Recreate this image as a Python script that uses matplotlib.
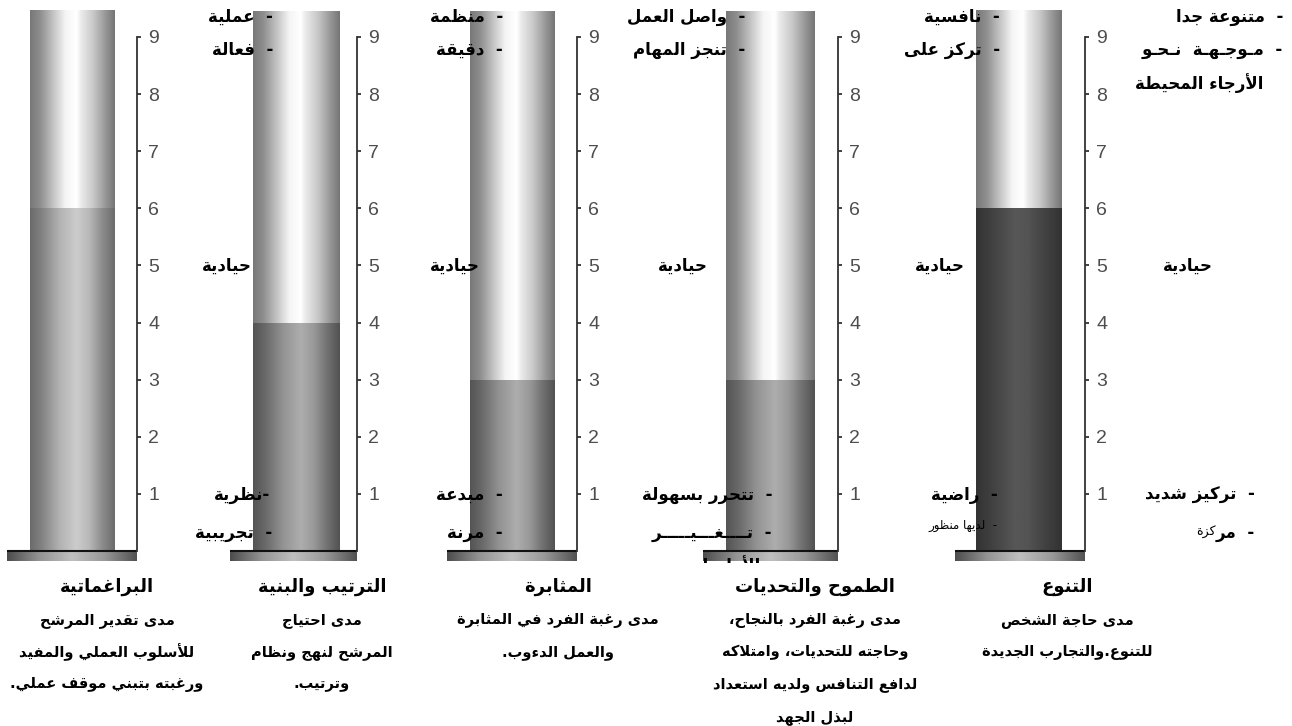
import numpy as np
import matplotlib
matplotlib.use('Agg')
import matplotlib.pyplot as plt
from matplotlib.transforms import Affine2D, Bbox, TransformedBbox, blended_transform_factory

# ---- data ----
scores = [6, 4, 3, 3, 6]
ticks = [1, 2, 3, 4, 5, 6, 7, 8, 9]
titles = ['البراغماتية', 'الترتيب والبنية', 'المثابرة', 'الطموح والتحديات', 'التنوع']
descriptions = [
    ['مدى تقدير المرشح', 'للأسلوب العملي والمفيد', 'ورغبته بتبني موقف عملي.'],
    ['مدى احتياج', 'المرشح لنهج ونظام', 'وترتيب.'],
    ['مدى رغبة الفرد في المثابرة', 'والعمل الدءوب.'],
    ['مدى رغبة الفرد بالنجاح،', 'وحاجته للتحديات، وامتلاكه',
     'لدافع التنافس ولديه استعداد', 'لبذل الجهد'],
    ['مدى حاجة الشخص', 'للتنوع.والتجارب الجديدة'],
]
high_labels = [['عملية', 'فعالة'], ['منظمة', 'دقيقة'], ['واصل العمل', 'تنجز المهام'],
               ['نافسية', 'تركز على'], ['متنوعة جدا', 'مـوجـهـة  نـحـو']]
low_labels = [['نظرية', 'تجريبية'], ['مبدعة', 'مرنة'], ['تتحرر بسهولة', 'تــــغـــيـــــر'],
              ['راضية', 'لديها منظور'], ['تركيز شديد', 'مر']]
neutral = 'حيادية'

# ---- arabic shaping (matplotlib has no bidi / joining) ----
FORMS = {
    'ء': (0xFE80, 1), 'آ': (0xFE81, 2), 'أ': (0xFE83, 2), 'ؤ': (0xFE85, 2), 'إ': (0xFE87, 2),
    'ئ': (0xFE89, 4), 'ا': (0xFE8D, 2), 'ب': (0xFE8F, 4), 'ة': (0xFE93, 2), 'ت': (0xFE95, 4),
    'ث': (0xFE99, 4), 'ج': (0xFE9D, 4), 'ح': (0xFEA1, 4), 'خ': (0xFEA5, 4), 'د': (0xFEA9, 2),
    'ذ': (0xFEAB, 2), 'ر': (0xFEAD, 2), 'ز': (0xFEAF, 2), 'س': (0xFEB1, 4), 'ش': (0xFEB5, 4),
    'ص': (0xFEB9, 4), 'ض': (0xFEBD, 4), 'ط': (0xFEC1, 4), 'ظ': (0xFEC5, 4), 'ع': (0xFEC9, 4),
    'غ': (0xFECD, 4), 'ف': (0xFED1, 4), 'ق': (0xFED5, 4), 'ك': (0xFED9, 4), 'ل': (0xFEDD, 4),
    'م': (0xFEE1, 4), 'ن': (0xFEE5, 4), 'ه': (0xFEE9, 4), 'و': (0xFEED, 2), 'ى': (0xFEEF, 2),
    'ي': (0xFEF1, 4),
}
LAM_ALEF = {'آ': 0xFEF5, 'أ': 0xFEF7, 'إ': 0xFEF9, 'ا': 0xFEFB}
TATWEEL = 'ـ'


def joins(c):
    return c == TATWEEL or (c in FORMS and FORMS[c][1] > 1)


def ar(text):
    out = []
    prev = False
    i = 0
    while i < len(text):
        c = text[i]
        nxt = text[i + 1] if i + 1 < len(text) else ''
        if c == 'ل' and nxt in LAM_ALEF:
            out.append(chr(LAM_ALEF[nxt] + int(prev)))
            prev = False
            i += 2
            continue
        if c in FORMS:
            base, n = FORMS[c]
            if n == 1:
                code = base
            elif n == 2:
                code = base + int(prev)
            else:
                after = joins(nxt)
                code = base + {(False, False): 0, (True, False): 1,
                               (False, True): 2, (True, True): 3}[(prev, after)]
            out.append(chr(code))
            prev = n == 4
        else:
            out.append(c)
            prev = c == TATWEEL
        i += 1
    return ''.join(reversed(out))


# ---- shading ----
def gradient(stops, n=256):
    pos, val = zip(*stops)
    return np.interp(np.linspace(0, 1, n), pos, val)[None, :]


GLASS = gradient([(0, .47), (.12, .56), (.3, .8), (.42, .96), (.55, 1), (.6, .92),
                  (.75, .78), (.9, .58), (1, .46)])
FILL_LIGHT = gradient([(0, .42), (.15, .52), (.35, .7), (.55, .8), (.7, .72), (.85, .55), (1, .42)])
FILL = gradient([(0, .33), (.15, .42), (.35, .58), (.55, .68), (.7, .6), (.85, .45), (1, .32)])
FILL_DARK = gradient([(0, .2), (.2, .26), (.45, .34), (.6, .33), (.8, .26), (1, .2)])
PLATE = gradient([(0, .3), (.25, .58), (.5, .75), (.75, .6), (1, .32)])
shades = [FILL_LIGHT, FILL, FILL, FILL, FILL_DARK]

# layout in pixels: plate left, tube left, tube right, scale line
frames = [(7, 30, 115, 137), (230, 253, 340, 357), (447, 470, 555, 577),
          (703, 726, 815, 838), (955, 976, 1062, 1085)]
high_right = [273, 503, 745, 1000, 1283]
low_right = [270, 503, 772, 998, 1255]
neutral_right = [252, 480, 708, 965, 1213]
caption_x = [107, 322, 558, 815, 1067]
TOP = 9.45

W, H = 1292, 726
plt.rcParams['font.family'] = ['DejaVu Sans']
fig = plt.figure(figsize=(W / 100, H / 100), dpi=100)
PX = Affine2D().scale(1 / W, -1 / H).translate(0, 1) + fig.transFigure

for i, (x0, t0, t1, xa) in enumerate(frames):
    ax = fig.add_axes([x0 / W, (H - 561) / H, (xa - x0) / W, 556 / H])
    ax.set_zorder(10 - i)
    ax.patch.set_visible(False)
    ax.imshow(PLATE, cmap='gray', vmin=0, vmax=1, aspect='auto',
              extent=(0, xa - x0, -0.175, 0), interpolation='bilinear')
    ax.imshow(shades[i], cmap='gray', vmin=0, vmax=1, aspect='auto',
              extent=(t0 - x0, t1 - x0, 0, scores[i]), interpolation='bilinear')
    ax.imshow(GLASS, cmap='gray', vmin=0, vmax=1, aspect='auto',
              extent=(t0 - x0, t1 - x0, scores[i], TOP), interpolation='bilinear')
    ax.axhline(0, color='#111111', lw=1.5)
    ax.set_xlim(0, xa - x0)
    ax.set_ylim(-0.175, 9.56)
    for s in ['top', 'left', 'bottom']:
        ax.spines[s].set_visible(False)
    ax.spines['right'].set_bounds(0, 9)
    ax.spines['right'].set_color('#333333')
    ax.spines['right'].set_linewidth(1.3)
    ax.set_xticks([])
    ax.yaxis.tick_right()
    ax.set_yticks(ticks)
    ax.set_yticklabels([str(t) for t in ticks], family='Liberation Sans')
    ax.tick_params(axis='y', direction='out', length=3, width=1.3, color='#333333',
                   labelsize=14, labelcolor='#4d4d4d', pad=5)

    # scale descriptions to the right of the line
    tr = blended_transform_factory(PX, ax.transData)
    for lab, y in zip(high_labels[i], [9.35, 8.77]):
        fig.text(high_right[i], y, ar('-  ' + lab), transform=tr, ha='right', va='center',
                 fontsize=12, fontweight='bold', zorder=20)
    fig.text(neutral_right[i], 5, ar(neutral), transform=tr, ha='right', va='center',
             fontsize=12, fontweight='bold', zorder=20)
    sep = '-' if i == 0 else '-  '
    fig.text(low_right[i], 0.98, ar(sep + low_labels[i][0]), transform=tr, ha='right',
             va='center', fontsize=12, fontweight='bold', zorder=20)
    small = i == 3
    last = fig.text(low_right[i] + (2 if i == 0 else 0), 0.45 if small else 0.32,
                    ar('-  ' + low_labels[i][1]), transform=tr, ha='right', va='center',
                    fontsize=8.5 if small else 12, fontweight='normal' if small else 'bold',
                    zorder=20)
    if i == 4:
        ax.annotate(ar('كزة'), xy=(0, 0.5), xycoords=last, ha='right', va='center',
                    fontsize=9, zorder=20, annotation_clip=False)
        fig.text(1263, 8.2, ar('الأرجاء المحيطة'), transform=tr, ha='right', va='center',
                 fontsize=12, fontweight='bold', zorder=20)
    if i == 2:
        cut = fig.text(760, -0.08, ar('الأولويات'), transform=tr, ha='right', va='top',
                       fontsize=12, fontweight='bold', zorder=20)
        cut.set_clip_box(TransformedBbox(Bbox([[0, 0], [W, 563]]), PX))
        cut.set_clip_on(True)

    # caption under each gauge
    fig.text(caption_x[i], 587, ar(titles[i]), transform=PX, ha='center', va='center',
             fontsize=13, fontweight='bold')
    for k, line in enumerate(descriptions[i]):
        fig.text(caption_x[i], 620 + 32.5 * k, ar(line), transform=PX, ha='center',
                 va='center', fontsize=10.5, fontweight='bold')

fig.savefig('out.png', dpi=100)
